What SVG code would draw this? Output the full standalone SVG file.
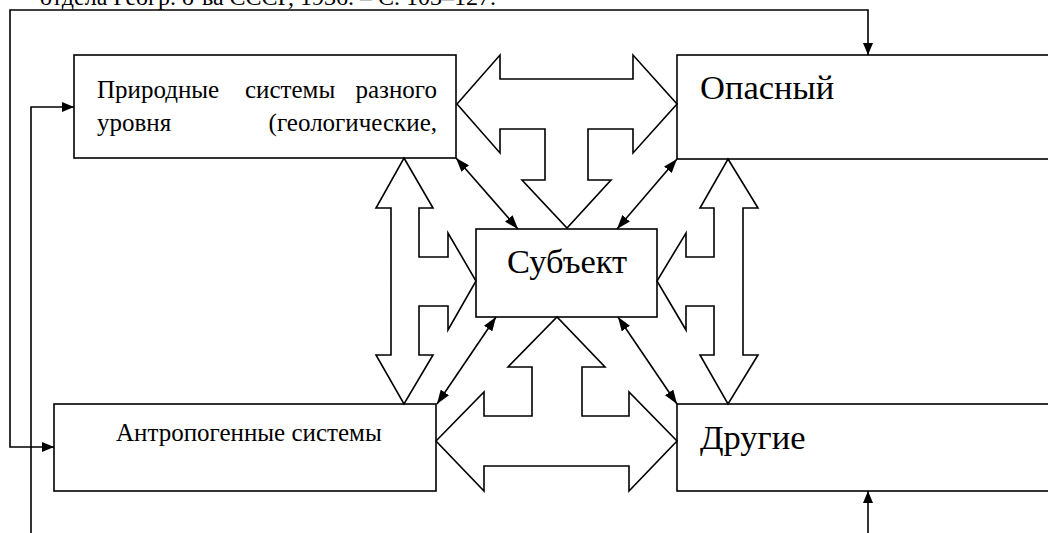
<svg xmlns="http://www.w3.org/2000/svg" width="1048" height="533" viewBox="0 0 1048 533">
<style>
  .box { fill: #fff; stroke: #000; stroke-width: 1.6; }
  .big { fill: #fff; stroke: #000; stroke-width: 1.6; stroke-linejoin: miter; }
  .ln { fill: none; stroke: #000; stroke-width: 1.6; }
  .t { font-family: "Liberation Serif", "Times New Roman", serif; fill: #000; }
  .s25 { font-size: 25px; }
  .s34 { font-size: 34.5px; }
</style>
<defs>
  <marker id="ah" viewBox="0 0 12 10" refX="12" refY="5" markerWidth="12" markerHeight="10" markerUnits="userSpaceOnUse" orient="auto-start-reverse">
    <path d="M0,0 L12,5 L0,10 z" fill="#000"/>
  </marker>
  <marker id="ad" viewBox="0 0 14 10" refX="14" refY="5" markerWidth="14" markerHeight="10" markerUnits="userSpaceOnUse" orient="auto-start-reverse">
    <path d="M0,0 L14,5 L0,10 z" fill="#000"/>
  </marker>
</defs>
<rect width="1048" height="533" fill="#fff"/>
<text class="t" style="font-size:24px" x="40" y="5">отдела Геогр. о-ва СССР, 1936. – С. 103–127.</text>

<g id="node-prirodnye">
  <rect class="box" x="74" y="55" width="382" height="103"/>
  <text class="t s25" x="97" y="98">Природные</text>
  <text class="t s25" x="245" y="98">системы</text>
  <text class="t s25" x="437" y="98" text-anchor="end">разного</text>
  <text class="t s25" x="97" y="131">уровня</text>
  <text class="t s25" x="437" y="131" text-anchor="end">(геологические,</text>
</g>
<g id="node-opasny">
  <rect class="box" x="677" y="55" width="380" height="104"/>
  <text class="t s34" x="700" y="99">Опасный</text>
</g>
<g id="node-subject">
  <rect class="box" x="476" y="229" width="181" height="88"/>
  <text class="t s34" x="507" y="273">Субъект</text>
</g>
<g id="node-antropogennye">
  <rect class="box" x="54" y="404" width="382" height="87"/>
  <text class="t s25" x="116" y="441">Антропогенные системы</text>
</g>
<g id="node-drugie">
  <rect class="box" x="677" y="404" width="380" height="87"/>
  <text class="t s34" x="700" y="449">Другие</text>
</g>

<g id="connectors">
  <polygon class="big" points="457,104 500,55 500,79 633,79 633,55 677,104 633,153 633,129 588,129 588,180 611,180 567,228 522,180 545,180 545,129 500,129 500,153"/>
  <polygon class="big" points="436,441 484,392 484,416 532,416 532,367 508,367 557,317 605,367 582,367 582,416 629,416 629,392 677,441 629,491 629,466 484,466 484,491"/>
  <polygon class="big" points="404,158 433,208 419,208 419,257 448,257 448,233 476,281 448,330 448,306 419,306 419,355 433,355 404,404 376,355 391,355 391,208 376,208"/>
  <polygon class="big" points="728,159 758,208 743,208 743,355 758,355 728,404 700,355 714,355 714,306 686,306 686,330 657,281 686,233 686,257 714,257 714,208 700,208"/>

  <line class="ln" x1="456" y1="158" x2="518" y2="229" marker-start="url(#ad)" marker-end="url(#ad)"/>
  <line class="ln" x1="677" y1="159" x2="617" y2="229" marker-start="url(#ad)" marker-end="url(#ad)"/>
  <line class="ln" x1="496" y1="317" x2="437" y2="404" marker-start="url(#ad)" marker-end="url(#ad)"/>
  <line class="ln" x1="618" y1="317" x2="677" y2="404" marker-start="url(#ad)" marker-end="url(#ad)"/>

  <path class="ln" d="M54,447 H10 V10 H868 V55" marker-start="url(#ah)" marker-end="url(#ah)"/>
  <path class="ln" d="M31,533 V107 H74" marker-end="url(#ah)"/>
  <path class="ln" d="M868,533 V491" marker-end="url(#ah)"/>
</g>
</svg>
